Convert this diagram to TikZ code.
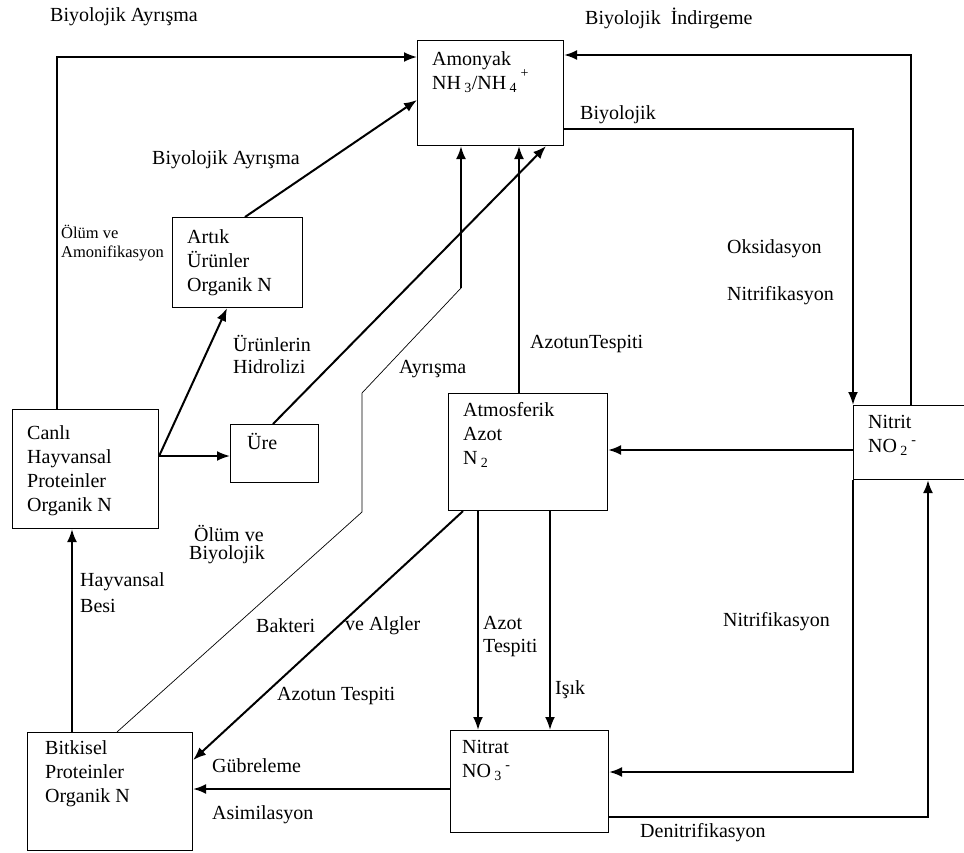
\documentclass[tikz,border=0pt]{standalone}
\usepackage{fontspec}
\setmainfont{Liberation Serif}
\usetikzlibrary{arrows.meta,calc}
\begin{document}
\begin{tikzpicture}[x=1pt,y=-1pt,
  box/.style={draw, line width=1.1pt, anchor=north west, inner sep=0pt},
  txt/.style={anchor=west, inner sep=0pt, font=\fontsize{20}{24}\selectfont, align=left},
  btxt/.style={anchor=north west, inner sep=0pt, font=\fontsize{20}{24}\selectfont, align=left},
  sml/.style={anchor=west, inner sep=0pt, font=\fontsize{16.5}{18}\selectfont},
  arr/.style={line width=2pt, -{Latex[length=13pt,width=10pt]}},
  thin/.style={line width=0.7pt}]
\useasboundingbox[fill=white] (0,0) rectangle (964,852);

% boxes
\node[box, minimum width=146pt, minimum height=105pt] (amo) at (417,40) {};
\node[box, minimum width=130pt, minimum height=90pt] (artik) at (172,217) {};
\node[box, minimum width=146pt, minimum height=119pt] (canli) at (12,409) {};
\node[box, minimum width=88pt, minimum height=58pt] (ure) at (230,424) {};
\node[box, minimum width=159pt, minimum height=117pt] (atm) at (448,393) {};
\node[box, minimum width=120pt, minimum height=74pt] (nitrit) at (853,405) {};
\node[box, minimum width=165pt, minimum height=118pt] (bit) at (27,732) {};
\node[box, minimum width=158pt, minimum height=102pt] (nitrat) at (450,730) {};

% box texts
\node[btxt] (tamo) at (432,51) {Amonyak\\NH\,\textsubscript{3}/NH\,\textsubscript{4}\,\raisebox{4pt}{\textsuperscript{+}}};
\node[btxt] (tartik) at (187,229) {Artık\\Ürünler\\Organik N};
\node[btxt] (tcanli) at (27,425) {Canlı\\Hayvansal\\Proteinler\\Organik N};
\node[btxt] (ture) at (247,433) {Üre};
\node[btxt] (tatm) at (463,402) {Atmosferik\\Azot\\N\,\textsubscript{2}};
\node[btxt] (tnitrit) at (868,415) {Nitrit\\NO\,\textsubscript{2}\,\textsuperscript{-}};
\node[btxt] (tbit) at (45,740) {Bitkisel\\Proteinler\\Organik N};
\node[btxt] (tnitrat) at (462,740) {Nitrat\\NO\,\textsubscript{3}\,\textsuperscript{-}};

% junction coordinates
\coordinate (cr) at (canli.east |- 0,456);
\coordinate (j) at (461,288);
\coordinate (k1) at (362,512);
\coordinate (k2) at (362,393);

% connectors
\draw[arr] (57,0 |- canli.north) |- (amo.west |- 0,57);
\draw[arr] (245,0 |- artik.north) -- (amo.west |- 0,100);
\draw[arr] (cr) -- (227,0 |- artik.south);
\draw[arr] (cr) -- (ure.west |- cr);
\draw[arr] (273,0 |- ure.north) -- (546,0 |- amo.south);
\draw[thin] (117,0 |- bit.north) -- (k1) -- (k2) -- (j);
\draw[arr] (j) -- (461,0 |- amo.south);
\draw[arr] (519,0 |- atm.north) -- (519,0 |- amo.south);
\draw[arr] (amo.east |- 0,129) -| (nitrit.north west);
\draw[arr] (911,0 |- nitrit.north) |- (amo.east |- 0,55);
\draw[arr] (nitrit.west |- 0,450) -- (atm.east |- 0,450);
\draw[arr] (463,0 |- atm.south) -- (bit.east |- 0,760);
\draw[arr] (478,0 |- atm.south) -- (478,0 |- nitrat.north);
\draw[arr] (550,0 |- atm.south) -- (550,0 |- nitrat.north);
\draw[arr] (nitrat.west |- 0,789) -- (bit.east |- 0,789);
\draw[arr] (72,0 |- bit.north) -- (72,0 |- canli.south);
\draw[arr] (nitrit.south west) |- (nitrat.east |- 0,772);
\draw[arr] (nitrat.east |- 0,817) -| (928,0 |- nitrit.south);

% labels
\node[txt] (l1) at (50,17) {Biyolojik Ayrışma};
\node[txt] (l2) at (585,18) {Biyolojik \ İndirgeme};
\node[txt] (l3) at (580,115) {Biyolojik};
\node[txt] (l4) at (152,160) {Biyolojik Ayrışma};
\node[sml] (l5) at (61,232) {Ölüm ve};
\node[sml] (l6) at (61,253) {Amonifikasyon};
\node[txt] (l7) at (727,249) {Oksidasyon};
\node[txt] (l8) at (727,296) {Nitrifikasyon};
\node[txt] (l9) at (233,343) {Ürünlerin};
\node[txt] (l10) at (233,367) {Hidrolizi};
\node[txt] (l11) at (399,369) {Ayrışma};
\node[txt] (l12) at (530,344) {AzotunTespiti};
\node[txt] (l13) at (194,533) {Ölüm ve};
\node[txt] (l14) at (189,555) {Biyolojik};
\node[txt] (l15) at (80,582) {Hayvansal};
\node[txt] (l16) at (80,606) {Besi};
\node[txt] (l17) at (256,626) {Bakteri};
\node[txt] (l18) at (345,626) {ve Algler};
\node[txt] (l19) at (723,622) {Nitrifikasyon};
\node[txt] (l20) at (483,623) {Azot};
\node[txt] (l21) at (483,648) {Tespiti};
\node[txt] (l22) at (555,690) {Işık};
\node[txt] (l23) at (277,696) {Azotun Tespiti};
\node[txt] (l24) at (212,766) {Gübreleme};
\node[txt] (l25) at (212,815) {Asimilasyon};
\node[txt] (l26) at (640,833) {Denitrifikasyon};
\end{tikzpicture}
\end{document}
